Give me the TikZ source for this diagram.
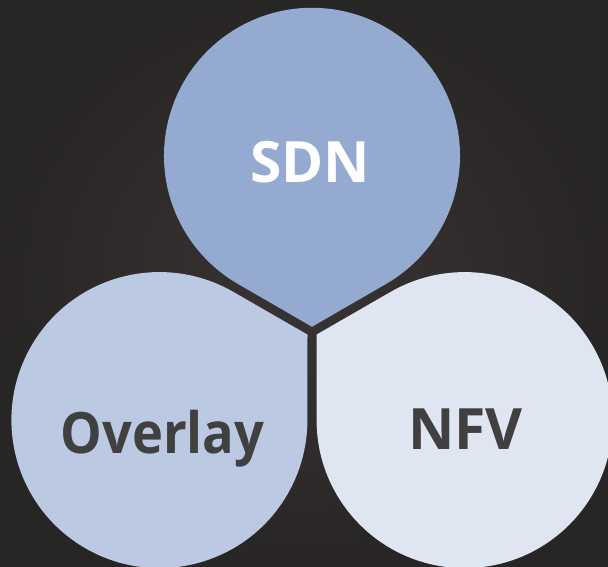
\documentclass[tikz,border=0pt]{standalone}
\usepackage{fontspec}
\setmainfont{Open Sans}
\usepackage{tikz}

\definecolor{bginner}{HTML}{383433}
\definecolor{bgouter}{HTML}{282625}
\definecolor{sdnblue}{HTML}{95AAD0}
\definecolor{overlayblue}{HTML}{BCC9E2}
\definecolor{nfvblue}{HTML}{DFE5F1}
\definecolor{labelgrey}{HTML}{404040}

\begin{document}
\begin{tikzpicture}[x=1pt,y=1pt,
        petal label/.style={font=\fontsize{57}{60}\selectfont\bfseries,
          inner sep=0pt,anchor=base}]
        \tikzstyle{petal}=[draw=none]
  % background
  \useasboundingbox (0,0) rectangle (608,567);
  \shade[inner color=bginner,outer color=bgouter] (0,0) rectangle (608,567);

  \coordinate (sdnc) at (312,411.2);
  \coordinate (overlayc) at (159.4,146.9);
  \coordinate (nfvc) at (464.6,146.9);
  \coordinate (sdntip) at (312,240.2);
  \coordinate (overlaytip) at (307.5,232.4);
  \coordinate (nfvtip) at (316.5,232.4);

  \fill[petal,sdnblue] (sdntip) -- ([shift={(300:148)}]sdnc)
    arc[start angle=300,end angle=600,radius=148] -- cycle;
  \fill[petal,overlayblue] (overlaytip) -- ([shift={(60:148)}]overlayc)
    arc[start angle=60,end angle=360,radius=148] -- cycle;
  \fill[petal,nfvblue] (nfvtip) -- ([shift={(180:148)}]nfvc)
    arc[start angle=180,end angle=480,radius=148] -- cycle;

  \node[petal label,white] (sdn) at (310,384.7) {SDN};
  \node[petal label,labelgrey] (overlay) at (162.5,113)
    {\addfontfeatures{FakeStretch=0.92}Overlay};
  \node[petal label,labelgrey] (nfv) at (465.5,117) {NFV};

\end{tikzpicture}
\end{document}
